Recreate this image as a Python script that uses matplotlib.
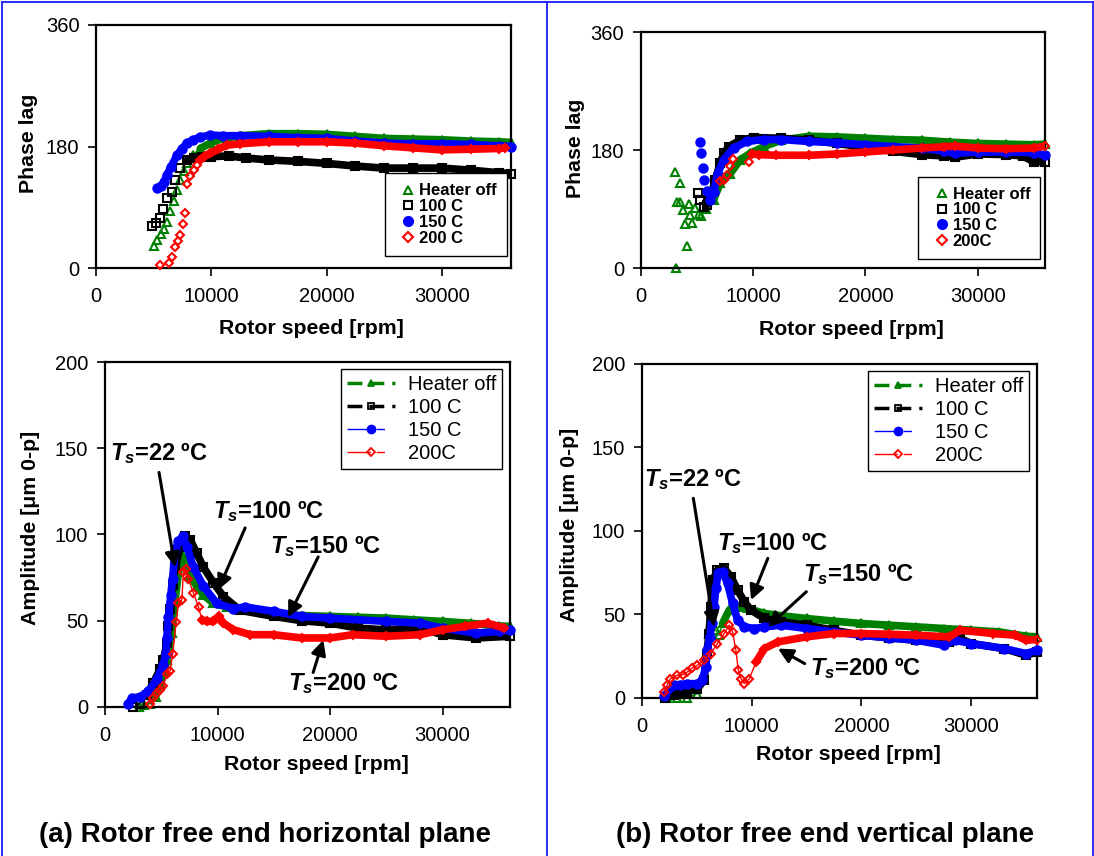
import matplotlib
matplotlib.use("Agg")
import matplotlib.pyplot as plt
import numpy as np
from matplotlib.lines import Line2D

plt.rcParams['font.family'] = ['Liberation Sans', 'DejaVu Sans']
plt.rcParams['mathtext.fontset'] = 'custom'
plt.rcParams['mathtext.rm'] = 'Liberation Sans:bold'
plt.rcParams['mathtext.it'] = 'Liberation Sans:italic:bold'
plt.rcParams['mathtext.bf'] = 'Liberation Sans:bold'

# ---------------- data ----------------
series_labels_top_a = ["Heater off", "100 C", "150 C", "200 C"]
series_labels_top_b = ["Heater off", "100 C", "150 C", "200C"]
series_labels_bot = ["Heater off", "100 C", "150 C", "200C"]

# Phase lag, horizontal plane
ph_h_off_x = [5000, 5300, 5600, 5900, 6170, 6450, 6720, 7000, 7300, 7600, 7900, 8450, 9040, 9900, 11000, 12500, 15000, 17500, 20000, 22500, 25000, 27500, 30000, 32500, 35000, 36000]
ph_h_off_y = [33, 42, 50, 58, 68, 85, 100, 115, 130, 143, 155, 168, 177, 185, 192, 196, 199, 199, 198, 195, 192, 191, 190, 188, 187, 186]
ph_h_100_x = [4840, 5200, 5565, 5826, 6150, 6580, 6870, 7300, 7890, 8500, 9200, 10000, 11500, 13000, 15000, 17500, 20000, 22500, 25000, 27500, 30000, 32500, 35000, 36000]
ph_h_100_y = [62, 66, 74, 88, 103, 113, 130, 148, 160, 163, 164, 165, 166, 163, 160, 158, 155, 151, 148, 148, 148, 145, 141, 140]
ph_h_150_x = [5275, 5600, 5900, 6150, 6500, 7020, 7450, 7890, 8450, 9040, 9910, 11000, 12500, 15000, 17500, 20000, 22500, 25000, 27500, 30000, 32500, 35000, 36000]
ph_h_150_y = [118, 122, 128, 138, 150, 167, 177, 185, 190, 194, 197, 196, 196, 195, 193, 192, 188, 185, 184, 184, 183, 181, 180]
ph_h_200_x = [5510, 6290, 6580, 6870, 7100, 7300, 7540, 7680, 7890, 8150, 8460, 8750, 9040, 9450, 9910, 10600, 11360, 12500, 15000, 17500, 20000, 22500, 25000, 27500, 30000, 32500, 35000, 35500]
ph_h_200_y = [4, 7, 17, 31, 40, 49, 65, 82, 125, 136, 145, 153, 160, 166, 170, 176, 182, 184, 187, 187, 187, 185, 181, 178, 175, 176, 177, 178]

# Phase lag, vertical plane
ph_v_off_x = [3000, 3120, 3205, 3445, 3500, 3740, 3945, 4120, 4245, 4390, 4540, 4835, 5140, 5370, 5800, 6470, 7060, 7950, 8840, 9730, 10920, 12500, 15000, 17500, 20000, 22500, 25000, 27500, 30000, 32500, 35000, 36000]
ph_v_off_y = [147, 0, 101, 130, 100, 88, 67, 34, 98, 81, 68, 91, 83, 79, 90, 104, 129, 144, 165, 175, 185, 195, 201, 200, 198, 196, 195, 192, 190, 189, 188, 189]
ph_v_100_x = [5045, 5280, 5580, 5850, 6170, 6615, 7060, 7400, 7810, 8840, 10035, 12500, 15000, 17500, 20000, 22500, 25000, 27000, 28000, 30000, 32500, 34000, 35000, 36000]
ph_v_100_y = [114, 104, 93, 96, 106, 134, 160, 175, 185, 195, 199, 198, 195, 190, 184, 178, 173, 171, 169, 174, 173, 171, 162, 162]
ph_v_150_x = [5225, 5340, 5520, 5640, 5875, 6170, 6470, 6830, 7360, 8255, 9440, 10930, 12500, 15000, 17500, 20000, 22500, 25000, 27000, 28000, 30000, 32500, 35000, 36000]
ph_v_150_y = [192, 175, 152, 134, 118, 104, 116, 144, 165, 183, 193, 196, 196, 193, 191, 188, 185, 183, 178, 175, 177, 177, 176, 172]
ph_v_200_x = [7060, 7360, 7660, 7900, 8190, 9590, 9885, 10500, 12000, 15000, 17500, 20000, 22500, 25000, 27000, 28000, 30000, 32500, 35000, 36000]
ph_v_200_y = [132, 134, 142, 155, 166, 161, 174, 173, 172, 172, 174, 177, 180, 183, 185, 186, 183, 182, 183, 186]

# Amplitude, horizontal plane
am_h_off_x = [3000, 3500, 4000, 4500, 4900, 5200, 5490, 5700, 5930, 6230, 6530, 6825, 7120, 7570, 8160, 8750, 9640, 10830, 12900, 15000, 17500, 20000, 22500, 25000, 27500, 30000, 32500, 35000, 36000]
am_h_off_y = [0, 1, 2, 6, 14, 20, 27, 35, 43, 62, 78, 88, 85, 76, 70, 65, 60, 58, 57, 54, 53, 52.5, 52, 51.5, 50.5, 49.6, 48.5, 47, 46.7]
am_h_100_x = [2520, 3120, 3700, 4300, 4900, 5190, 5490, 5640, 5790, 6000, 6230, 6680, 7120, 7570, 8160, 8750, 9640, 10530, 12020, 15000, 17500, 20000, 22500, 25000, 28000, 30000, 33000, 36000]
am_h_100_y = [0, 2, 7, 14, 22, 27, 37, 47, 57, 71, 81, 93, 99, 97, 89, 81, 72, 64, 56, 52.5, 50, 48.6, 45.7, 44.7, 45.7, 41.9, 40, 41]
am_h_150_x = [2080, 2370, 3120, 3860, 4600, 5190, 5400, 5490, 5640, 5850, 6000, 6230, 6530, 6910, 7270, 7860, 8750, 9940, 11420, 12460, 15000, 17500, 20000, 25000, 28000, 30000, 33000, 35000, 36000]
am_h_150_y = [2, 5, 6, 9, 16, 24.5, 31, 40, 52, 65, 74, 91, 96, 99, 93, 81, 70, 60, 57, 58, 55.4, 52.5, 51.5, 49.6, 48.6, 45.7, 42.8, 43.8, 44.7]
am_h_200_x = [4000, 4300, 4600, 4900, 5190, 5490, 5790, 6020, 6320, 6530, 6825, 6970, 7180, 7420, 7860, 8310, 8610, 9050, 9640, 10090, 10530, 11420, 12900, 15000, 17500, 20000, 22000, 25000, 28000, 30000, 32000, 34000, 35500]
am_h_200_y = [2, 5, 8, 10, 12, 19, 21, 31, 49, 60, 62, 78, 80, 74, 66, 58, 50.5, 49.6, 49.6, 52.5, 48.6, 44.8, 41.9, 41.9, 40, 40, 41.9, 41, 41.9, 44.8, 46.7, 48.6, 45.7]

# Amplitude, vertical plane
am_v_off_x = [2290, 3200, 4130, 5050, 5500, 5810, 6120, 6330, 6730, 7030, 7340, 7950, 8720, 9630, 11160, 13000, 15000, 17500, 20000, 22500, 25000, 27500, 30000, 32500, 35000, 36000]
am_v_off_y = [0, 0, 0, 2.6, 12.6, 26.6, 38.6, 44.6, 40.6, 37.6, 44.6, 52.6, 54.6, 53.6, 50.6, 49, 47.6, 46, 44.6, 43.6, 42.6, 41.6, 40.6, 39.6, 37, 36.6]
am_v_100_x = [2140, 2900, 3500, 4130, 5050, 5660, 5900, 6120, 6270, 6480, 6880, 7490, 8100, 8720, 9330, 9940, 11160, 12690, 15000, 17500, 20000, 22500, 25000, 28000, 29000, 30000, 33000, 35000, 36000]
am_v_100_y = [0, 1.6, 2.6, 3.6, 5.6, 10.6, 26.6, 38.6, 54.6, 70.6, 76.6, 77.6, 72.6, 64.6, 57.6, 52.6, 47.6, 45.6, 43.6, 40.5, 37.6, 36, 34.6, 33.6, 35.6, 32.6, 29.6, 25.6, 27.6]
am_v_150_x = [1990, 2900, 3500, 4130, 5050, 5500, 5810, 5960, 6180, 6360, 6570, 6730, 6940, 7340, 7800, 8260, 8720, 9330, 10240, 11160, 12690, 15000, 17500, 20000, 22500, 25000, 27500, 28500, 30000, 33000, 35000, 36000]
am_v_150_y = [1, 7.6, 8, 8.6, 8.6, 10.6, 18.6, 28.6, 36.6, 44.6, 54.6, 65.6, 74.6, 75.6, 68.6, 56.6, 46.6, 42.6, 41.6, 42.6, 43.6, 41.6, 39.5, 37.6, 36, 34.6, 31.6, 34.6, 32.6, 29.6, 26.6, 28.6]
am_v_200_x = [2050, 2290, 2600, 3210, 3700, 4130, 4600, 5050, 5660, 6270, 6880, 7490, 7950, 8260, 8560, 8780, 9020, 9330, 9790, 10400, 11160, 12390, 15000, 17500, 20000, 22500, 25000, 28000, 29000, 32000, 34000, 35000, 36000]
am_v_200_y = [3.6, 7.6, 11.6, 13.6, 14, 15.6, 18, 19.6, 22.6, 26.6, 32.6, 38.6, 43.6, 39.6, 28.6, 16.6, 11.6, 8.6, 11.6, 21.6, 29.6, 33.6, 36.6, 38.6, 38.6, 38.2, 37.6, 36.6, 40.6, 38.6, 37.6, 34.6, 35]

x_ticks = [0, 10000, 20000, 30000]
phase_ticks = [0, 180, 360]
amp_ticks = [0, 50, 100, 150, 200]

# ---------------- styles ----------------
colors = ['#008000', '#000000', '#0000ff', '#ff0000']
markers = ['^', 's', 'o', 'D']
mfcs = ['none', 'none', '#0000ff', 'none']
msizes = [5.5, 5.5, 6.0, 4.5]

FS_TICK = 14.5
FS_LAB = 15.3

fig = plt.figure(figsize=(10.94, 8.56), dpi=100)

def make_ax(rect, ylim, yticks):
    ax = fig.add_axes(rect)
    ax.set_xlim(0, 36000)
    ax.set_ylim(*ylim)
    ax.set_xticks(x_ticks)
    ax.set_yticks(yticks)
    for s in ax.spines.values():
        s.set_linewidth(1.6)
        s.set_color('black')
    ax.tick_params(axis='both', direction='out', length=6, width=1.2,
                   labelsize=FS_TICK, top=False, right=False, pad=6)
    ax.tick_params(axis='x', pad=8)
    return ax

def draw_series(ax, xs, ys, i, band_from, thin_line):
    x = np.array(xs, dtype=float)
    y = np.array(ys, dtype=float)
    m = x >= band_from
    ax.plot(x[m], y[m], color=colors[i], lw=5.5, solid_capstyle='round',
            solid_joinstyle='round', zorder=2 + i)
    if thin_line:
        ax.plot(x, y, color=colors[i], lw=1.0, zorder=2 + i)
    ax.plot(x, y, ls='none', marker=markers[i], ms=msizes[i], mec=colors[i],
            mfc=mfcs[i], mew=1.5, zorder=2 + i, clip_on=False)

# Top-left: phase, horizontal
ax1 = make_ax([0.0878, 0.6869, 0.3793, 0.2839], (0, 360), phase_ticks)
draw_series(ax1, ph_h_off_x, ph_h_off_y, 0, 8500, False)
draw_series(ax1, ph_h_100_x, ph_h_100_y, 1, 7890, False)
draw_series(ax1, ph_h_150_x, ph_h_150_y, 2, 5900, False)
draw_series(ax1, ph_h_200_x, ph_h_200_y, 3, 9040, False)

# Top-right: phase, vertical
ax2 = make_ax([0.5859, 0.6869, 0.3693, 0.2757], (0, 360), phase_ticks)
draw_series(ax2, ph_v_off_x, ph_v_off_y, 0, 6470, False)
draw_series(ax2, ph_v_100_x, ph_v_100_y, 1, 5850, False)
draw_series(ax2, ph_v_150_x, ph_v_150_y, 2, 6170, False)
draw_series(ax2, ph_v_200_x, ph_v_200_y, 3, 9885, False)

# Bottom-left: amplitude, horizontal
ax3 = make_ax([0.0960, 0.1741, 0.3702, 0.4030], (0, 200), amp_ticks)
draw_series(ax3, am_h_off_x, am_h_off_y, 0, 4500, True)
draw_series(ax3, am_h_100_x, am_h_100_y, 1, 3700, True)
draw_series(ax3, am_h_150_x, am_h_150_y, 2, 2080, True)
draw_series(ax3, am_h_200_x, am_h_200_y, 3, 8610, True)

# Bottom-right: amplitude, vertical
ax4 = make_ax([0.5868, 0.1846, 0.3611, 0.3902], (0, 200), amp_ticks)
draw_series(ax4, am_v_off_x, am_v_off_y, 0, 7340, True)
draw_series(ax4, am_v_100_x, am_v_100_y, 1, 2140, True)
draw_series(ax4, am_v_150_x, am_v_150_y, 2, 1990, True)
draw_series(ax4, am_v_200_x, am_v_200_y, 3, 10400, True)

# axis labels
for ax, yl, yc, xc in [
        (ax1, 'Phase lag', (-0.14, 0.514), (0.52, -0.21)),
        (ax2, 'Phase lag', (-0.139, 0.508), (0.522, -0.22)),
        (ax3, 'Amplitude [\u03bcm 0-p]', (-0.16, 0.52), (0.523, -0.14)),
        (ax4, 'Amplitude [\u03bcm 0-p]', (-0.16, 0.518), (0.522, -0.14))]:
    ax.set_ylabel(yl, fontsize=FS_LAB, fontweight='bold')
    ax.set_xlabel('Rotor speed [rpm]', fontsize=FS_LAB, fontweight='bold')
    ax.yaxis.set_label_coords(*yc)
    ax.xaxis.set_label_coords(*xc)

# legends
def top_handles():
    return [Line2D([], [], ls='none', marker=markers[i], ms=msizes[i] + 0.5,
                   mec=colors[i], mfc=mfcs[i], mew=1.5) for i in range(4)]

for ax, labels, anchor in [(ax1, series_labels_top_a, (0.99, 0.05)),
                           (ax2, series_labels_top_b, (0.988, 0.038))]:
    leg = ax.legend(top_handles(), labels, loc='lower right', bbox_to_anchor=anchor,
                    fancybox=False, edgecolor='black', framealpha=1,
                    prop={'weight': 'bold', 'size': 12}, handlelength=1.6,
                    handletextpad=-0.15, labelspacing=0.05, borderpad=0.6,
                    borderaxespad=0)
    leg.get_frame().set_linewidth(1.0)
    leg.set_zorder(20)

def bot_handles():
    return [
        Line2D([], [], color=colors[0], lw=2.5, dashes=(4.3, 2, 4.3, 2.3, 0.9, 3),
               marker='^', ms=5, mec=colors[0], mfc='none', mew=1.3),
        Line2D([], [], color=colors[1], lw=2.5, dashes=(4.3, 2, 4.3, 2.3, 0.9, 3),
               marker='s', ms=5, mec=colors[1], mfc='none', mew=1.3),
        Line2D([], [], color=colors[2], lw=1.0, dashes=(17, 4, 6, 10),
               marker='o', ms=6, mec=colors[2], mfc=colors[2]),
        Line2D([], [], color=colors[3], lw=1.0, dashes=(17, 4, 6, 10),
               marker='D', ms=4.5, mec=colors[3], mfc='none', mew=1.3),
    ]

for ax, anchor in [(ax3, (0.98, 0.98)), (ax4, (0.98, 0.98))]:
    leg = ax.legend(bot_handles(), series_labels_bot, loc='upper right', bbox_to_anchor=anchor,
                    fancybox=False, edgecolor='black', framealpha=1,
                    prop={'size': 14.5}, handlelength=2.4, handletextpad=0.6,
                    labelspacing=0.2, borderpad=0.3, borderaxespad=0)
    leg.get_frame().set_linewidth(1.0)
    leg.set_zorder(20)

# annotations (Ts labels + arrows)
FS_ANN = 17
ann_h = [
    ('$T_s$=22 \u00baC', (445, 143), (6230, 81), (4800, 136)),
    ('$T_s$=100 \u00baC', (9610, 109.6), (10050, 67.8), (12455, 103.8)),
    ('$T_s$=150 \u00baC', (14680, 89), (16280, 52), (18950, 87)),
    ('$T_s$=200 \u00baC', (16300, 9.5), (19400, 38.8), (18500, 20)),
]
ann_v = [
    ('$T_s$=22 \u00baC', (150, 126.6), (6570, 42.6), (4680, 119.6)),
    ('$T_s$=100 \u00baC', (6880, 88.6), (9940, 58.6), (11470, 83.6)),
    ('$T_s$=150 \u00baC', (14680, 70), (11470, 42.6), (14980, 63.6)),
    ('$T_s$=200 \u00baC', (15290, 13.6), (12390, 29.6), (14830, 20.6)),
]
for ax, anns in [(ax3, ann_h), (ax4, ann_v)]:
    for txt, tpos, head, tail in anns:
        ax.text(tpos[0], tpos[1], txt, fontsize=FS_ANN, fontweight='bold',
                ha='left', va='baseline', zorder=30)
        ax.annotate('', xy=head, xytext=tail,
                    arrowprops=dict(arrowstyle='-|>', lw=2.2, color='black',
                                    mutation_scale=22, shrinkA=0, shrinkB=0),
                    zorder=30)

# captions
fig.text(0.2425, 1 - 842 / 856, '(a) Rotor free end horizontal plane', fontsize=20,
         fontweight='bold', ha='center', va='baseline')
fig.text(0.754, 1 - 842 / 856, '(b) Rotor free end vertical plane', fontsize=20,
         fontweight='bold', ha='center', va='baseline')

# blue frame
bc = '#1c1cff'
for xs, ys in [([2 / 1094, 2 / 1094], [-0.01, 1 - 2 / 856]),
               ([2 / 1094, 1093 / 1094], [1 - 2 / 856, 1 - 2 / 856]),
               ([1093 / 1094, 1093 / 1094], [-0.01, 1 - 2 / 856]),
               ([547 / 1094, 547 / 1094], [-0.01, 1 - 2 / 856])]:
    fig.add_artist(Line2D(xs, ys, color=bc, lw=1.3, transform=fig.transFigure))

fig.savefig('out.png', dpi=100)
